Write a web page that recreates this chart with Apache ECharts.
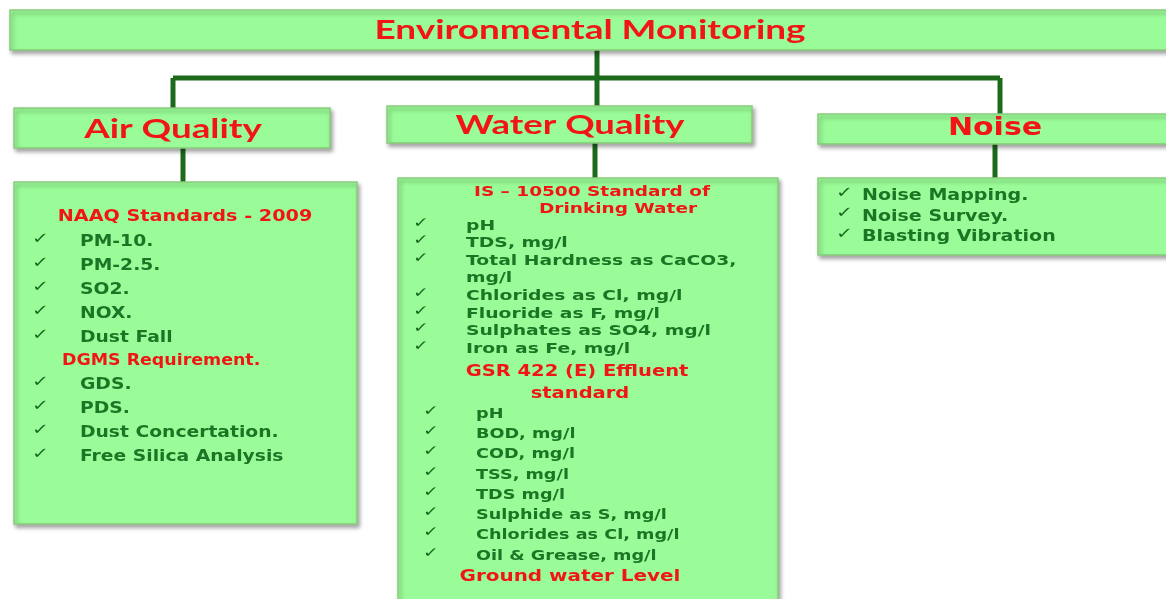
<!DOCTYPE html>
<html>
<head>
<meta charset="utf-8" />
<title>Environmental Monitoring</title>
<style>
*{margin:0;padding:0;}
#chart{width:1166px;height:599px;background:#fff;}
</style>
</head>
<body>
<div id="chart"></div>
<script src="https://cdn.jsdelivr.net/npm/echarts@6/dist/echarts.min.js"></script>
<script>
var rootTitle = 'Environmental Monitoring';
var branchTitles = ['Air Quality', 'Water Quality', 'Noise'];
var naaqTitle = 'NAAQ Standards - 2009';
var naaqItems = ['PM-10.', 'PM-2.5.', 'SO2.', 'NOX.', 'Dust Fall'];
var dgmsTitle = 'DGMS Requirement.';
var dgmsItems = ['GDS.', 'PDS.', 'Dust Concertation.', 'Free Silica Analysis'];
var drinkTitle = ['IS \u2013 10500 Standard of', 'Drinking Water'];
var drinkItems = ['pH', 'TDS, mg/l', 'Total Hardness as CaCO3,\nmg/l', 'Chlorides as Cl, mg/l', 'Fluoride as F, mg/l', 'Sulphates as SO4, mg/l', 'Iron as Fe, mg/l'];
var effluentTitle = ['GSR 422 (E) Effluent', 'standard'];
var effluentItems = ['pH', 'BOD, mg/l', 'COD, mg/l', 'TSS, mg/l', 'TDS mg/l', 'Sulphide as S, mg/l', 'Chlorides as Cl, mg/l', 'Oil & Grease, mg/l'];
var groundTitle = 'Ground water Level';
var noiseItems = ['Noise Mapping.', 'Noise Survey.', 'Blasting Vibration'];

var FILL = '#9afc98', EDGE = '#8acb7c', RED = '#f21515', GREEN = '#1c7524', LINK = '#1d6a1d';
var HEAD = 'Lato, "Open Sans", sans-serif';
var BODY = '"DejaVu Sans", Verdana, sans-serif';

var els = [];

function box(x, y, w, h) {
    els.push({
        type: 'rect', z: 1,
        shape: { x: x, y: y, width: w, height: h },
        style: {
            fill: FILL, stroke: EDGE, lineWidth: 1.5,
            shadowBlur: 4, shadowOffsetX: 2, shadowOffsetY: 3, shadowColor: 'rgba(0,0,0,0.35)'
        }
    });
}

function link(points) {
    els.push({
        type: 'polyline', z: 0,
        shape: { points: points },
        style: { stroke: LINK, lineWidth: 5, fill: null }
    });
}

// the source picture is stretched sideways, so text gets a scaleX
function txt(s, x, y, size, color, align, family, sx) {
    els.push({
        type: 'text', z: 5, x: x, y: y, scaleX: sx || 1,
        style: {
            text: s, fill: color, textAlign: align || 'left', textVerticalAlign: 'middle',
            fontSize: size, fontWeight: 'bold', fontFamily: family || BODY
        }
    });
}

function check(x, y, size) {
    els.push({
        type: 'text', z: 5, x: x, y: y, scaleX: 1.35,
        style: {
            text: '\u2713', fill: '#17661d', textAlign: 'left', textVerticalAlign: 'middle',
            fontSize: size, fontWeight: 'bold', fontFamily: BODY
        }
    });
}

// list of items, returns next y
function list(items, cx, tx, y, step, size, sx, csize) {
    items.forEach(function (it) {
        it.split('\n').forEach(function (line, k) {
            if (k === 0) check(cx, y - 3, csize || size);
            txt(line, tx, y, size, GREEN, 'left', BODY, sx);
            y += step;
        });
    });
    return y;
}

// connectors
link([[597, 50], [597, 78]]);
link([[173, 78], [1000, 78]]);
link([[173, 78], [173, 108]]);
link([[597, 78], [597, 106]]);
link([[1000, 78], [1000, 114]]);
link([[183, 148], [183, 182]]);
link([[595, 143], [595, 178]]);
link([[995, 144], [995, 178]]);

// root
box(10, 10, 1166, 40);
txt(rootTitle, 590, 31, 26, RED, 'center', HEAD, 1.42);

// branch headers
box(14, 108, 316, 40);
txt(branchTitles[0], 173, 129, 27, RED, 'center', HEAD, 1.36);
box(387, 106, 365, 37);
txt(branchTitles[1], 570, 125, 27, RED, 'center', HEAD, 1.35);
box(818, 114, 360, 30);
txt(branchTitles[2], 995, 129, 24, RED, 'center', BODY, 1.25);

// air quality
box(14, 182, 343, 342);
txt(naaqTitle, 185, 217, 16, RED, 'center', BODY, 1.2);
list(naaqItems, 32, 80, 242, 24, 16, 1.17, 15);
txt(dgmsTitle, 62, 361, 15, RED, 'left', BODY, 1.16);
list(dgmsItems, 32, 80, 385, 24, 16, 1.17, 15);

// water quality
box(398, 178, 380, 440);
txt(drinkTitle[0], 592, 192, 14, RED, 'center', BODY, 1.32);
txt(drinkTitle[1], 618, 209, 14, RED, 'center', BODY, 1.32);
list(drinkItems, 413, 466, 226, 17.6, 14, 1.34, 14);
txt(effluentTitle[0], 577, 372, 15, RED, 'center', BODY, 1.3);
txt(effluentTitle[1], 580, 394, 15, RED, 'center', BODY, 1.3);
list(effluentItems, 423, 476, 414, 20.3, 14, 1.26, 14);
txt(groundTitle, 570, 577, 15, RED, 'center', BODY, 1.33);

// noise
box(818, 178, 360, 77);
list(noiseItems, 836, 862, 196, 20.5, 16, 1.19, 15);

var chart = echarts.init(document.getElementById('chart'));
chart.setOption({
    backgroundColor: '#fff',
    animation: false,
    graphic: { elements: els }
});
</script>
</body>
</html>
